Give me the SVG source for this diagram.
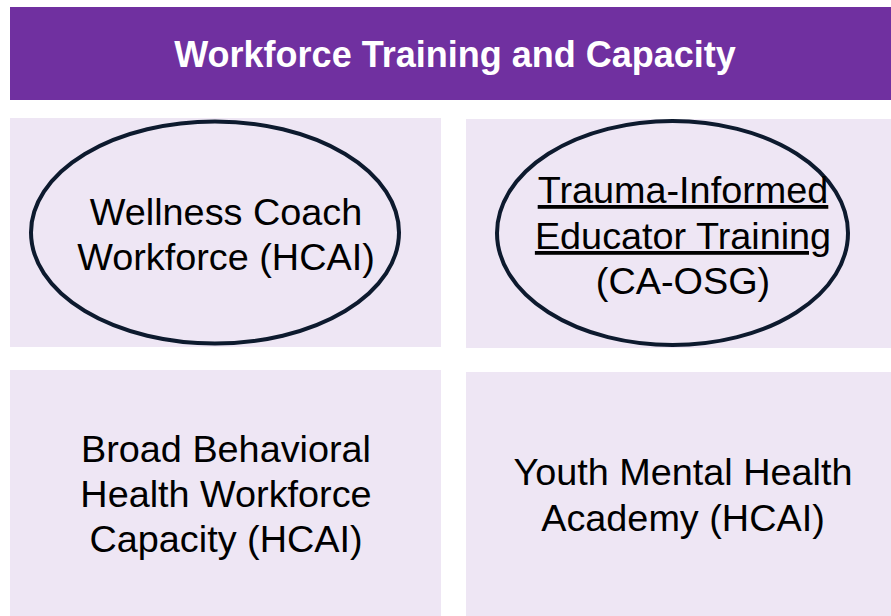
<svg xmlns="http://www.w3.org/2000/svg" width="891" height="616" viewBox="0 0 891 616">
<style>
.box{fill:#eee6f4}
.oval{fill:none;stroke:#0d1a2e;stroke-width:4}
.t{font-family:"Liberation Sans",Arial,sans-serif;font-size:37.8px;fill:#000;text-anchor:middle}
.h{font-family:"Liberation Sans",Arial,sans-serif;font-size:36px;font-weight:bold;fill:#fff;text-anchor:middle}
</style>
<rect width="891" height="616" fill="#fff"/>
<g id="header">
<rect x="10" y="7" width="881" height="93" fill="#7030a0"/>
<text class="h" x="455" y="67">Workforce Training and Capacity</text>
</g>
<g id="wellness">
<rect class="box" x="10" y="118" width="431" height="229"/>
<ellipse class="oval" cx="215" cy="232.5" rx="184" ry="111"/>
<text class="t" x="226" y="225">Wellness Coach</text>
<text class="t" x="226" y="270">Workforce (HCAI)</text>
</g>
<g id="trauma">
<rect class="box" x="466" y="119" width="425" height="229"/>
<ellipse class="oval" cx="672.5" cy="233" rx="175.5" ry="112"/>
<text class="t" x="683" y="203" text-decoration="underline">Trauma-Informed</text>
<text class="t" x="683" y="249" text-decoration="underline">Educator Training</text>
<text class="t" x="683" y="294">(CA-OSG)</text>
</g>
<g id="broad">
<rect class="box" x="10" y="370" width="431" height="246"/>
<text class="t" x="226" y="462">Broad Behavioral</text>
<text class="t" x="226" y="507">Health Workforce</text>
<text class="t" x="226" y="552">Capacity (HCAI)</text>
</g>
<g id="youth">
<rect class="box" x="466" y="372" width="425" height="244"/>
<text class="t" x="683" y="485">Youth Mental Health</text>
<text class="t" x="683" y="531">Academy (HCAI)</text>
</g>
<g id="connectors"/>
</svg>
